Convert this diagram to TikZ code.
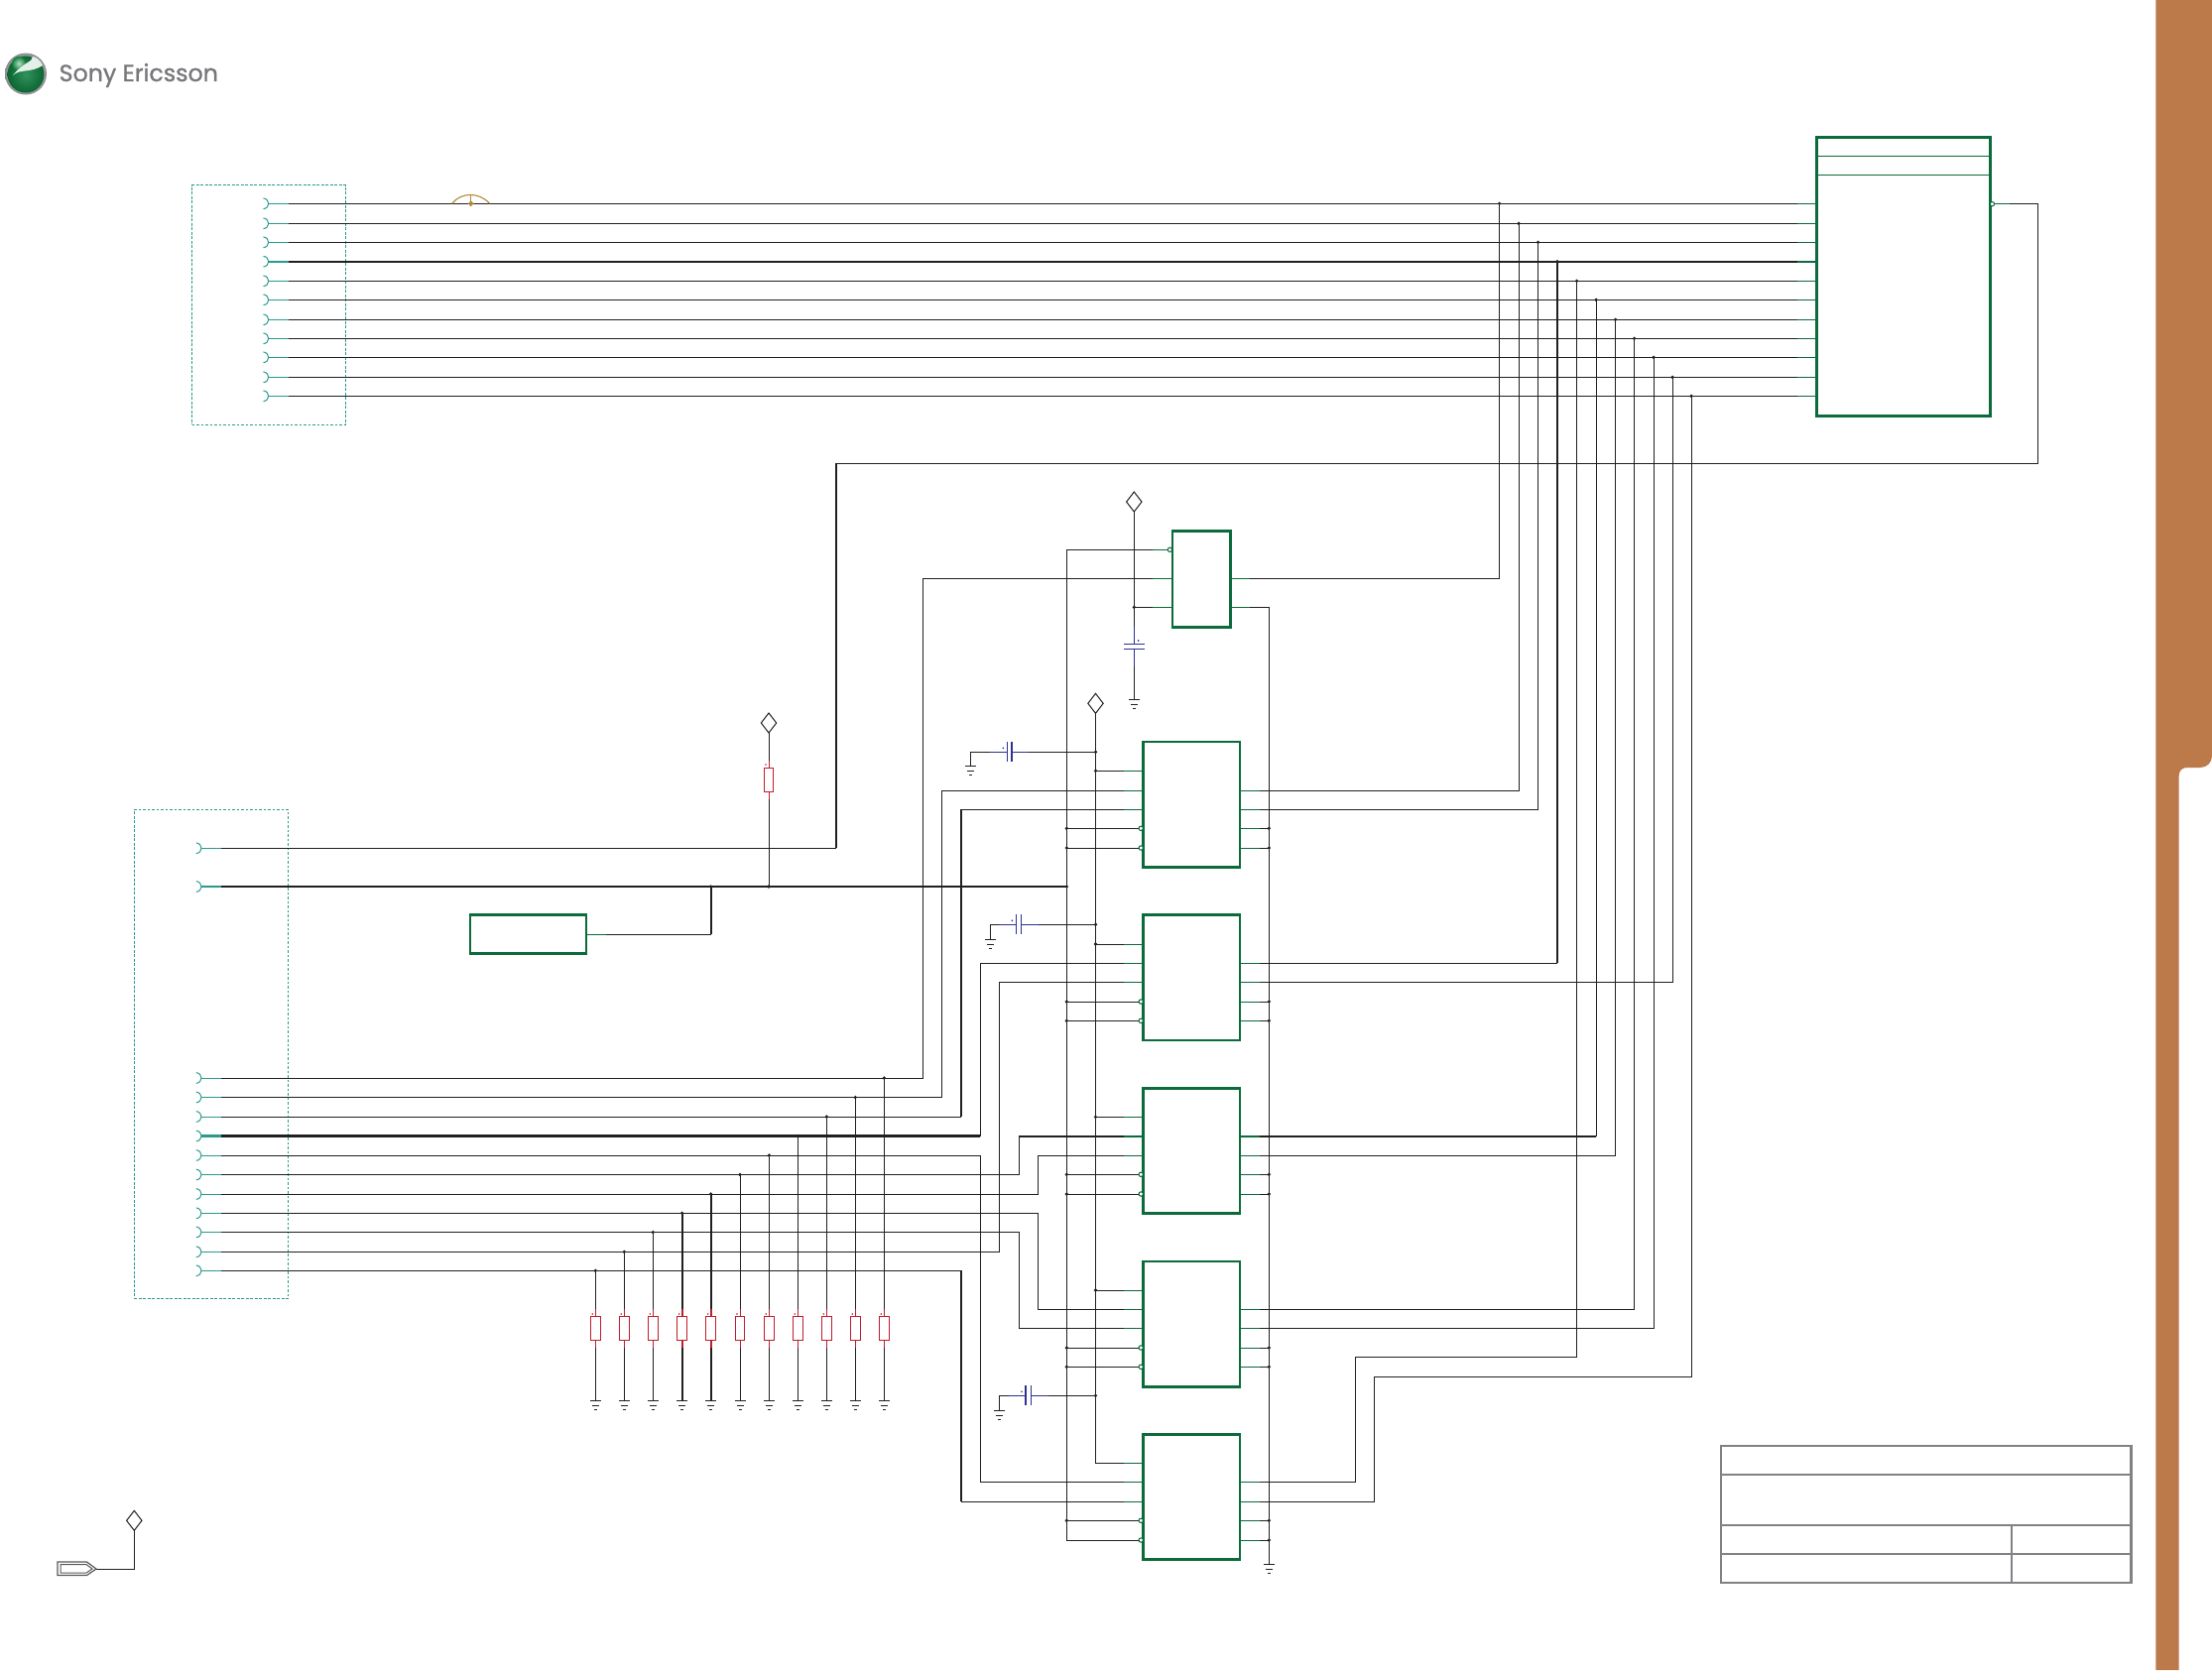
\documentclass[tikz,border=0pt]{standalone}
\usepackage{fontspec}
\setmainfont{Poppins}
\newfontfamily\logofont[FakeBold=1.2]{Poppins}
\usetikzlibrary{shapes.geometric}
\definecolor{wireblk}{HTML}{231F20}
\definecolor{chipgreen}{HTML}{0B6B3A}
\definecolor{portteal}{HTML}{2A9A8C}
\definecolor{resred}{HTML}{BE1E2D}
\definecolor{capblue}{HTML}{2E3192}
\definecolor{barbrown}{HTML}{BC7A4B}
\definecolor{tablegray}{HTML}{808285}
\definecolor{logogray}{HTML}{77787B}
\definecolor{fusebrown}{HTML}{B08A3C}
\definecolor{logogreen}{HTML}{0E7F3E}
\definecolor{logolight}{HTML}{8CC99A}
\tikzset{
  wire/.style={draw=wireblk,line width=1pt},
  bus/.style={draw=wireblk,line width=2.1pt},
  greenstub/.style={draw=chipgreen,line width=1pt},
  greenbus/.style={draw=chipgreen,line width=2.1pt},
  tealstub/.style={draw=portteal,line width=1pt},
  tealbus/.style={draw=portteal,line width=2.1pt},
  chipbox/.style={rectangle,draw=chipgreen,line width=2.7pt,inner sep=0pt,outer sep=0pt,anchor=north west},
  dashbox/.style={rectangle,draw=portteal,line width=0.9pt,dash pattern=on 2.8pt off 1.7pt,inner sep=0pt,outer sep=0pt,anchor=north west},
  resbox/.style={rectangle,draw=resred,line width=1pt,inner sep=0pt,outer sep=0pt,minimum width=9.5pt,minimum height=24pt},
  railpower/.style={diamond,draw=wireblk,line width=1pt,inner sep=0pt,outer sep=0pt,minimum width=15.4pt,minimum height=20pt},
  redstub/.style={draw=resred,line width=1pt},
  capline/.style={draw=capblue,line width=1.05pt},
  tablegrid/.style={draw=tablegray,line width=2.1pt},
  bubble/.style={draw=chipgreen,line width=1pt,fill=white},
  gndsym/.pic={
    \draw[wireblk,line width=0.9pt] (-5.5,0) -- (5.5,0) (-3.5,5) -- (3.5,5) (-1.5,9) -- (1.5,9);
  },
  portarc/.pic={
    \draw[portteal,line width=1pt] (-5.5,-5.4) .. controls (1.4,-4.5) and (1.4,4.5) .. (-5.5,5.4);
  },
}
\newcommand{\jdot}[1]{\fill[wireblk] (#1) circle (1.8pt);}
\begin{document}
\begin{tikzpicture}[x=1pt,y=-1pt]
\useasboundingbox (0,0) rectangle (2230,1684);

% side bar
\fill[barbrown] (2173.3,0) -- (2230,0) -- (2230,762) .. controls (2230,769) and (2225,774) .. (2218,774) -- (2205,774) .. controls (2200,774) and (2196.7,777) .. (2196.7,782) -- (2196.7,1684) -- (2173.3,1684) -- cycle;

% logo
\shade[inner color=white,outer color=black!45] (26,74.5) circle (21);
\shade[inner color=logogreen!85!white,outer color=logogreen!80!black] (26,75) circle (18.5);
\shade[inner color=logolight!60!white,outer color=logogreen] (19,64) circle (7);
\fill[white!88!logogreen] (33,57) .. controls (33,63) and (24,62) .. (13,76) .. controls (20,69) and (31,74) .. (43,66) .. controls (41,61) and (37,58) .. (33,57) -- cycle;
\node[anchor=west,inner sep=0pt,text=logogray,font=\logofont\fontsize{23.7}{26}\selectfont] (logotext) at (59.5,76) {Sony Ericsson};

% connector boxes
\node[dashbox,minimum width=155pt,minimum height=241.5pt] (J1) at (193.5,186.7) {};
\node[dashbox,minimum width=155pt,minimum height=493.5pt] (J2) at (135.3,816.3) {};

% main block
\node[chipbox,line width=3pt,minimum width=174.3pt,minimum height=281pt] (U1) at (1831.7,138) {};
\draw[greenstub] (U1.west |- 0,157.3) -- (U1.east |- 0,157.3);
\draw[greenstub] (U1.west |- 0,176.3) -- (U1.east |- 0,176.3);

% top ports and their buses
\foreach \i/\y/\x in {1/205.3/1511.6,2/225.3/1531,3/244.3/1550.5,4/263.7/1570,5/283.3/1589.5,6/302.3/1609,7/322.3/1628.5,8/341.3/1647.5,9/360.3/1667,10/380.3/1686,11/399.3/1705}{
  \coordinate (Tp\i) at (291,\y);
  \coordinate (Up\i) at (1812,\y);
  \coordinate (Bus\i) at (\x,\y);
  \pic at (271,\y) {portarc};
  \ifnum\i=4
    \draw[tealbus] (271,\y) -- (Tp\i);
    \draw[bus] (Tp\i) -- (Up\i);
    \draw[greenbus] (Up\i) -- (U1.west |- Up\i);
  \else
    \draw[tealstub] (271,\y) -- (Tp\i);
    \draw[wire] (Tp\i) -- (Up\i);
    \draw[greenstub] (Up\i) -- (U1.west |- Up\i);
  \fi
  \jdot{Bus\i}
}

% fuse-like mark on the first line
\draw[fusebrown,line width=1.1pt] (455.7,205.3) .. controls (465,193.5) and (483,193.5) .. (493.7,205.3);
\draw[fusebrown,line width=1.1pt] (474.7,196) -- (474.7,205.3);
\fill[fusebrown] (474.7,202.3) -- (477.5,205.3) -- (474.7,208.3) -- (471.9,205.3) -- cycle;

% lower ports
\foreach \n/\y in {A/855.3,B/894}{
  \coordinate (Lp\n) at (223,\y);
  \pic at (203.3,\y) {portarc};
}
\draw[tealstub] (203.3,855.3) -- (LpA);
\draw[tealbus] (203.3,894) -- (LpB);
\foreach \i/\y in {1/1087,2/1106.5,3/1126,4/1145.5,5/1165,6/1184.5,7/1204,8/1223.3,9/1242.5,10/1262.3,11/1281.3}{
  \coordinate (Lp\i) at (223,\y);
  \pic at (203.3,\y) {portarc};
  \ifnum\i=4 \draw[tealbus] (203.3,\y) -- (Lp\i);
  \else \draw[tealstub] (203.3,\y) -- (Lp\i); \fi
}

% regulator
\node[chipbox,minimum width=58.7pt,minimum height=97.4pt] (Reg) at (1182,535.3) {};
\foreach \n/\y in {1/554.3,2/583.3,3/612.3}{
  \coordinate (RegL\n) at (1162.3,\y);
  \draw[greenstub] (RegL\n) -- (Reg.west |- RegL\n);
}
\foreach \n/\y in {2/583.3,3/612.3}{
  \coordinate (RegR\n) at (1260,\y);
  \draw[greenstub] (Reg.east |- RegR\n) -- (RegR\n);
}
\draw[bubble] (1179.4,554.3) circle (2.2pt);

% five identical chips
\foreach \k/\t/\a/\b/\c/\d/\e in {1/748/777.3/797.3/816.3/835.3/855,2/922.7/952/971.3/990.3/1010/1029.3,3/1097.3/1126.3/1145.7/1165.3/1184.3/1204,4/1272/1301/1320.3/1339.3/1359/1378.3,5/1446.3/1475.3/1494.3/1514.3/1533.3/1553}{
  \node[chipbox,minimum width=97.3pt,minimum height=126.2pt] (C\k) at (1152.8,\t) {};
  \coordinate (C\k La) at (1133,\a);
  \coordinate (C\k Lb) at (1133,\b);
  \coordinate (C\k Lc) at (1133,\c);
  \coordinate (C\k Ld) at (1148,\d);
  \coordinate (C\k Le) at (1148,\e);
  \coordinate (C\k Rb) at (1270,\b);
  \coordinate (C\k Rc) at (1270,\c);
  \coordinate (C\k Rd) at (1270,\d);
  \coordinate (C\k Re) at (1270,\e);
  \draw[greenstub] (C\k La) -- (C\k.west |- C\k La);
  \draw[greenstub] (C\k Lb) -- (C\k.west |- C\k Lb);
  \draw[greenstub] (C\k Lc) -- (C\k.west |- C\k Lc);
  \draw[greenstub] (C\k.east |- C\k Rb) -- (C\k Rb);
  \draw[greenstub] (C\k.east |- C\k Rc) -- (C\k Rc);
  \draw[greenstub] (C\k.east |- C\k Rd) -- (C\k Rd);
  \draw[greenstub] (C\k.east |- C\k Re) -- (C\k Re);
  \draw[bubble] (1150.2,\d) circle (2.2pt);
  \draw[bubble] (1150.2,\e) circle (2.2pt);
}
\draw[greenbus] (C3Lb) -- (C3.west |- C3Lb);
\draw[greenbus] (C3.east |- C3Rb) -- (C3Rb);

% rails
\coordinate (EnTop) at (1075.3,554.3);
\coordinate (GndRail) at (1279.3,612.3);
\coordinate (GndFoot) at (1279.3,1577.3);
\draw[wire] (RegL1) -- (EnTop) -- (EnTop |- C5Le) -- (C5Le);
\draw[wire] (RegR3) -- (GndRail) -- (GndFoot);
\pic at (GndFoot) {gndsym};
\foreach \k in {1,2,3,4,5}{
  \draw[wire] (C\k Ld) -- (EnTop |- C\k Ld);
  \draw[wire] (C\k Le) -- (EnTop |- C\k Le);
  \draw[wire] (C\k Rd) -- (GndRail |- C\k Rd);
  \draw[wire] (C\k Re) -- (GndRail |- C\k Re);
  \jdot{EnTop |- C\k Ld}
  \jdot{GndRail |- C\k Rd}
  \jdot{GndRail |- C\k Re}
}
\foreach \k in {1,2,3,4}{\jdot{EnTop |- C\k Le}}

% power pin of the chips
\node[railpower] (Vdd) at (1104.5,709.3) {};
\draw[wire] (Vdd.south) -- (Vdd.south |- C5La) -- (C5La);
\foreach \k in {1,2,3,4}{
  \draw[wire] (C\k La) -- (Vdd.south |- C\k La);
  \jdot{Vdd.south |- C\k La}
}

% regulator power and capacitor
\node[railpower] (Vreg) at (1143.3,506) {};
\coordinate (RegCapTop) at (1143.3,631.7);
\coordinate (RegCapBot) at (1143.3,671.7);
\coordinate (RegGnd) at (1143.3,705);
\draw[wire] (Vreg.south) -- (RegCapTop);
\draw[wire] (RegCapBot) -- (RegGnd);
\draw[wire] (RegL3) -- (Vreg.south |- RegL3);
\jdot{Vreg.south |- RegL3}
\draw[capline] (RegCapTop) -- (1143.3,649.3) (1143.3,654.3) -- (RegCapBot);
\draw[capline] (1133,649.3) -- (1153.6,649.3) (1133,654.3) -- (1153.6,654.3);
\fill[capblue] (1147.6,646) circle (0.9pt);
\pic at (RegGnd) {gndsym};

% decoupling capacitors on the chips' power rail
\foreach \n/\gx/\yy/\sx/\pa/\pb/\ex/\gy in {1/978.3/758.3/998.3/1015.3/1020/1036.7/772.3,2/998.3/932.3/1007.3/1024.3/1029.3/1046.7/947.7,3/1007.3/1407.3/1017.3/1034/1039.3/1056.7/1422.3}{
  \coordinate (CapG\n) at (\gx,\gy);
  \coordinate (CapL\n) at (\sx,\yy);
  \coordinate (CapR\n) at (\ex,\yy);
  \draw[wire] (CapL\n) -| (CapG\n);
  \draw[wire] (CapR\n) -- (Vdd.south |- CapR\n);
  \jdot{Vdd.south |- CapR\n}
  \draw[capline] (CapL\n) -- (\pa,\yy) (\pb,\yy) -- (CapR\n);
  \draw[capline] (\pa,\yy-10) -- (\pa,\yy+10) (\pb,\yy-10) -- (\pb,\yy+10);
  \fill[capblue] (\pa-4,\yy-4) circle (0.9pt);
  \pic at (CapG\n) {gndsym};
}

% upper buses down to the chips
\draw[wire] (RegR2) -| (Bus1);
\draw[wire] (C1Rb) -| (Bus2);
\draw[wire] (C1Rc) -| (Bus3);
\draw[wire] (C2Rb) -- (Bus4 |- C2Rb);
\draw[bus] (Bus4 |- C2Rb) -- (Bus4);
\coordinate (Jog5) at (1366.3,1368.3);
\draw[wire] (C5Rb) -| (Jog5) -| (Bus5);
\draw[bus] (C3Rb) -- (Bus6 |- C3Rb);
\draw[wire] (Bus6 |- C3Rb) -- (Bus6);
\draw[wire] (C3Rc) -| (Bus7);
\draw[wire] (C4Rb) -| (Bus8);
\draw[wire] (C4Rc) -| (Bus9);
\draw[wire] (C2Rc) -| (Bus10);
\coordinate (Jog11) at (1385.3,1388.3);
\draw[wire] (C5Rc) -| (Jog11) -| (Bus11);

% feedback from the main block
\coordinate (UOut) at (2026,205.7);
\coordinate (FbR) at (2054.7,467.3);
\coordinate (FbL) at (843.3,467.3);
\draw[bubble] (2008.4,205.7) circle (2.2pt);
\draw[greenstub] (2010.6,205.7) -- (UOut);
\draw[wire] (UOut) -| (FbR) -- (FbL);
\draw[bus] (FbL) -- (FbL |- LpA);
\draw[wire] (FbL |- LpA) -- (LpA);

% thick line and small block
\coordinate (BusEnd) at (1075.3,894);
\draw[bus] (LpB) -- (BusEnd);
\jdot{BusEnd}
\node[chipbox,minimum width=117pt,minimum height=39pt] (U2) at (474,922.7) {};
\coordinate (U2Out) at (611,942.3);
\coordinate (U2Join) at (716.7,894);
\draw[greenstub] (U2.east |- U2Out) -- (U2Out);
\draw[wire] (U2Out) -- (U2Join |- U2Out);
\draw[bus] (U2Join |- U2Out) -- (U2Join);
\jdot{U2Join}

% pull-up resistor
\node[railpower] (Vpu) at (775,729) {};
\node[resbox] (Rv) at (775,786.5) {};
\coordinate (RvJoin) at (775,894);
\draw[wire] (Vpu.south) -- (775,767);
\draw[redstub] (775,767) -- (Rv.north) (Rv.south) -- (775,806);
\draw[wire] (775,806) -- (RvJoin);
\jdot{RvJoin}
\fill[resred] (772,771) circle (0.9pt);

% lower port wiring
\foreach \n/\x in {A/930,B/949,C/968.7,D/988.3,E/1007.3,F/1027.3,G/1046.7}{
  \coordinate (Turn\n) at (\x,1000);
}
\draw[wire] (Lp1) -| (TurnA) |- (RegL2);
\draw[wire] (Lp2) -| (TurnB) |- (C1Lb);
\draw[wire] (Lp3) -- (TurnC |- Lp3);
\draw[bus] (TurnC |- Lp3) -- (TurnC |- C1Lc);
\draw[wire] (TurnC |- C1Lc) -- (C1Lc);
\draw[bus] (Lp4) -- (TurnD |- Lp4);
\draw[wire] (TurnD |- Lp4) |- (C2Lb);
\draw[wire] (Lp5) -| (TurnD |- C5Lb) -- (C5Lb);
\draw[wire] (Lp6) -| (TurnF |- C3Lb);
\draw[bus] (TurnF |- C3Lb) -- (C3Lb);
\draw[wire] (Lp7) -| (TurnG |- C3Lc) -- (C3Lc);
\draw[wire] (Lp8) -| (TurnG |- C4Lb) -- (C4Lb);
\draw[wire] (Lp9) -| (TurnF |- C4Lc) -- (C4Lc);
\draw[wire] (Lp10) -| (TurnE |- C2Lc) -- (C2Lc);
\draw[wire] (Lp11) -- (TurnC |- Lp11);
\draw[bus] (TurnC |- Lp11) -- (TurnC |- C5Lc);
\draw[wire] (TurnC |- C5Lc) -- (C5Lc);

% pull-down resistors
\foreach \r/\x/\p in {1/600.3/11,2/629.3/10,3/658.3/9,4/687.7/8,5/716.7/7,6/746/6,7/775.3/5,8/804.3/4,9/833.3/3,10/862.3/2,11/891.3/1}{
  \node[resbox] (R\r) at (\x,1339.3) {};
  \coordinate (RT\r) at (\x,1320);
  \coordinate (RB\r) at (\x,1359.3);
  \coordinate (RG\r) at (\x,1412);
  \ifnum\r=4 \def\ws{2.1pt}\else\ifnum\r=5 \def\ws{2.1pt}\else\def\ws{1pt}\fi\fi
  \draw[wireblk,line width=\ws] (RT\r) -- (RT\r |- Lp\p);
  \draw[wireblk,line width=\ws] (RB\r) -- (RG\r);
  \draw[resred,line width=\ws] (RT\r) -- (R\r.north) (R\r.south) -- (RB\r);
  \fill[resred] (\x-3,1325) circle (0.9pt);
  \jdot{RT\r |- Lp\p}
  \pic at (RG\r) {gndsym};
}

% bottom-left power flag
\node[railpower] (Vflag) at (135.3,1533.3) {};
\coordinate (FlagTip) at (97,1582);
\draw[wire] (FlagTip) -| (Vflag.south);
\draw[wireblk!75,line width=1.2pt] (58,1575) -- (87.5,1575) -- (97,1582) -- (87.5,1588.5) -- (58,1588.5) -- cycle;
\draw[wireblk!75,line width=1pt] (61,1577.5) -- (87,1577.5) -- (93,1582) -- (87,1586) -- (61,1586) -- cycle;

% title table
\draw[tablegrid] (1735,1458) rectangle (2148.5,1596);
\draw[tablegrid] (1735,1487) -- (2148.5,1487);
\draw[tablegrid] (1735,1538) -- (2148.5,1538);
\draw[tablegrid] (1735,1567) -- (2148.5,1567);
\draw[tablegrid] (2028,1538) -- (2028,1596);
\end{tikzpicture}
\end{document}
